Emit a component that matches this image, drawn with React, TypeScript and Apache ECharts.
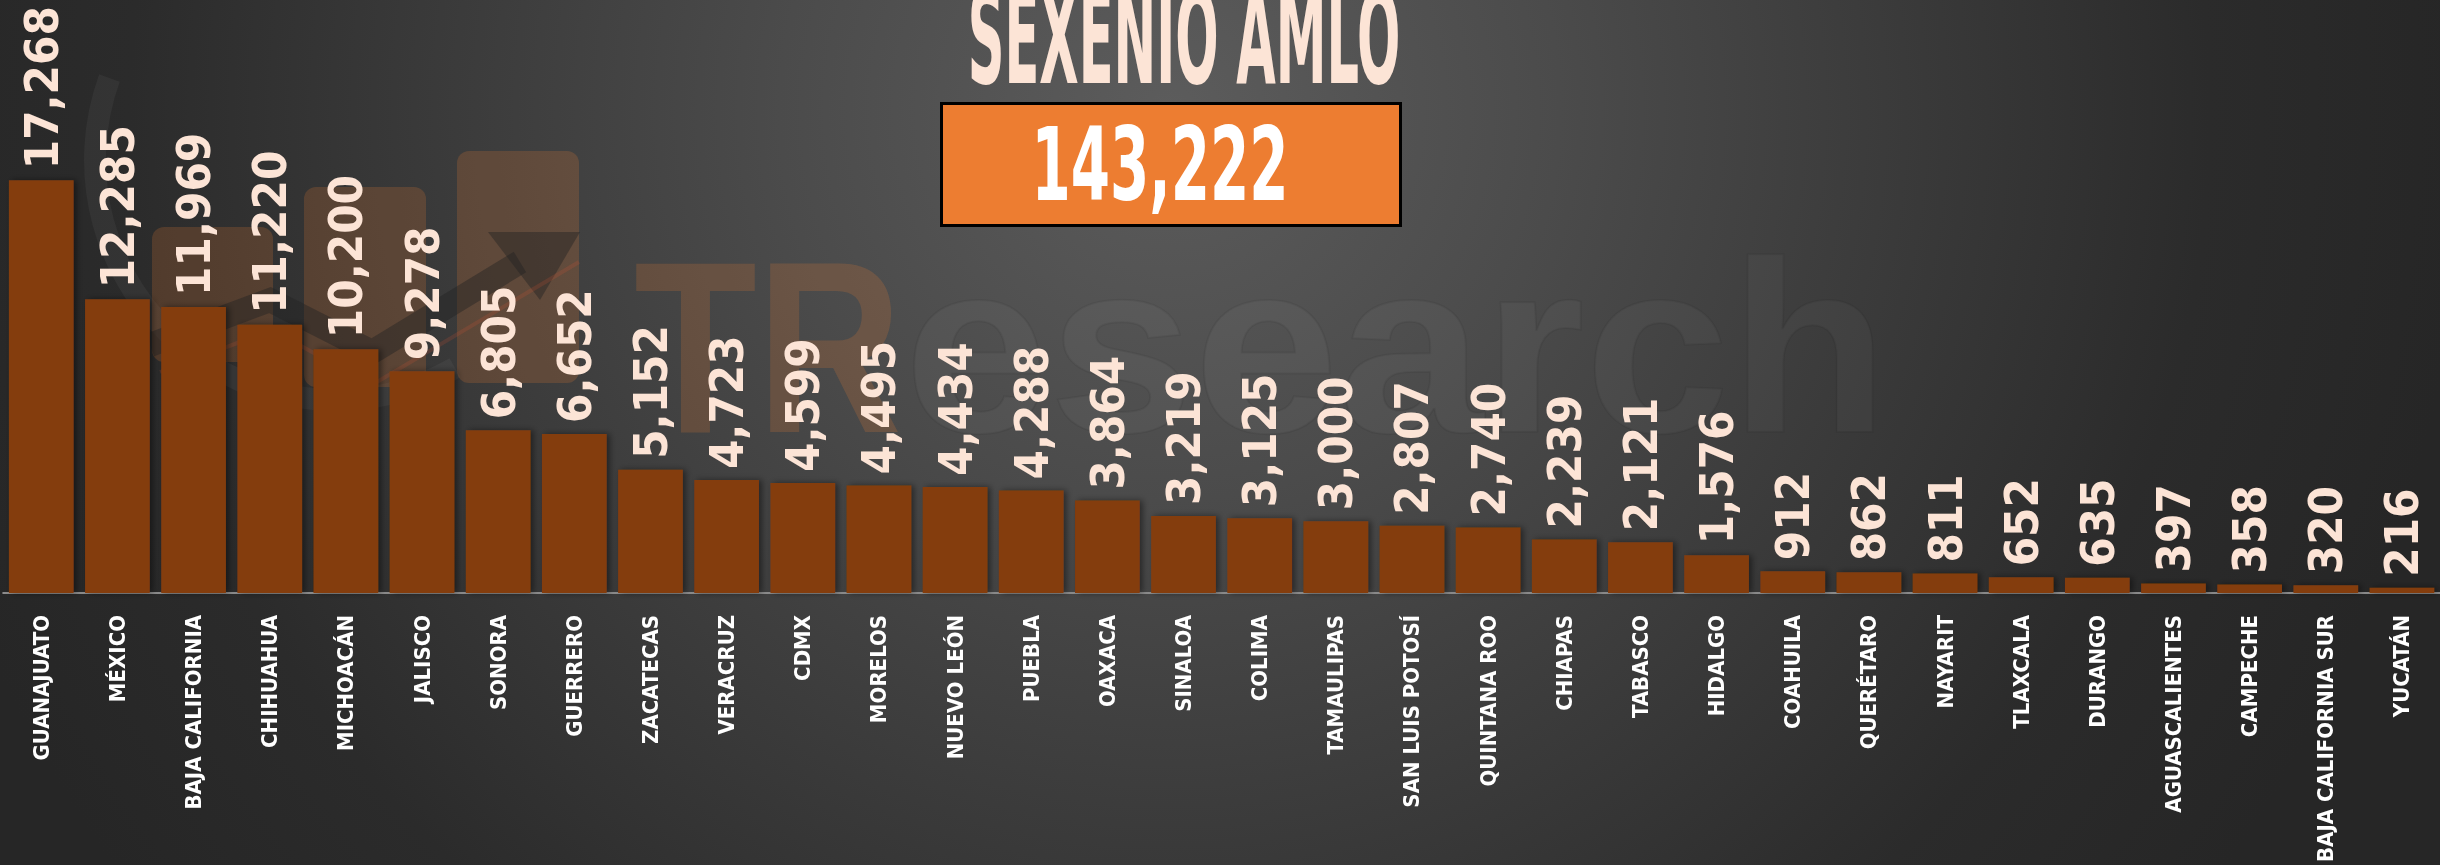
import React, { useEffect, useRef } from "react";
import * as echarts from "echarts";

const states = [
  "GUANAJUATO", "MÉXICO", "BAJA CALIFORNIA", "CHIHUAHUA", "MICHOACÁN", "JALISCO",
  "SONORA", "GUERRERO", "ZACATECAS", "VERACRUZ", "CDMX", "MORELOS", "NUEVO LEÓN",
  "PUEBLA", "OAXACA", "SINALOA", "COLIMA", "TAMAULIPAS", "SAN LUIS POTOSÍ",
  "QUINTANA ROO", "CHIAPAS", "TABASCO", "HIDALGO", "COAHUILA", "QUERÉTARO",
  "NAYARIT", "TLAXCALA", "DURANGO", "AGUASCALIENTES", "CAMPECHE",
  "BAJA CALIFORNIA SUR", "YUCATÁN",
];
const homicides = [
  17268, 12285, 11969, 11220, 10200, 9278, 6805, 6652, 5152, 4723, 4599, 4495, 4434,
  4288, 3864, 3219, 3125, 3000, 2807, 2740, 2239, 2121, 1576, 912, 862, 811, 652, 635,
  397, 358, 320, 216,
];
const titleText = "SEXENIO AMLO";
const totalText = "143,222";
const watermarkA = "TR";
const watermarkB = "esearch";

const FONT = "'DejaVu Sans Condensed', 'Liberation Sans Narrow', 'DejaVu Sans', sans-serif";
const WM_FONT = "'Liberation Sans', Arial, sans-serif";
const PEACH = "#FCE4D6";

function fitScale(text: string, font: string, target: number): number {
  const ctx = document.createElement("canvas").getContext("2d");
  if (!ctx) return 1;
  ctx.font = font;
  const w = ctx.measureText(text).width;
  return w > 0 ? target / w : 1;
}

export default function App() {
  const ref = useRef<HTMLDivElement>(null);

  useEffect(() => {
    if (!ref.current) return;
    const chart = echarts.init(ref.current, undefined, { renderer: "svg" });

    const titleSize = 130;
    const titleScale = fitScale(titleText, `bold ${titleSize}px ${FONT}`, 432);
    const totalSize = 101;
    const totalScale = fitScale(totalText, `bold ${totalSize}px ${FONT}`, 257);
    const wmSize = 245;
    const wmScaleA = fitScale(watermarkA, `bold ${wmSize}px ${WM_FONT}`, 268);
    const wmScaleB = fitScale(watermarkB, `bold ${wmSize}px ${WM_FONT}`, 985);

    chart.setOption({
      animation: false,
      backgroundColor: "transparent",
      grid: { left: 3.2, top: 115, width: 2451.2, height: 481, containLabel: false },
      xAxis: {
        type: "category",
        data: states,
        axisLine: { show: true, lineStyle: { color: "#8c8c8c", width: 2 } },
        axisTick: { show: false },
        axisLabel: {
          interval: 0,
          rotate: 90,
          margin: 22,
          color: "#FFFFFF",
          fontWeight: "bold",
          fontSize: 22,
          fontFamily: FONT,
        },
        splitLine: { show: false },
      },
      yAxis: {
        type: "value",
        min: 0,
        max: 20000,
        show: false,
        splitLine: { show: false },
      },
      series: [
        {
          type: "bar",
          data: homicides,
          barCategoryGap: "15%",
          z: 3,
          itemStyle: {
            color: "#843C0C",
            shadowBlur: 6,
            shadowColor: "rgba(0,0,0,0.45)",
            shadowOffsetX: 3,
          },
          label: {
            show: true,
            position: "top",
            distance: 11,
            rotate: 90,
            align: "left",
            verticalAlign: "middle",
            color: PEACH,
            fontFamily: FONT,
            fontWeight: "bold",
            fontSize: 47,
            formatter: (p: any) => Number(p.value).toLocaleString("en-US"),
          },
        },
      ],
      graphic: [
        {
          type: "group",
          z: 0,
          silent: true,
          children: [
            {
              type: "arc",
              shape: { cx: 335, cy: 160, r: 240, startAngle: (60 * Math.PI) / 180, endAngle: (200 * Math.PI) / 180, clockwise: true },
              style: { stroke: "rgba(255,255,255,0.045)", lineWidth: 22, fill: "none" },
            },
            {
              type: "rect",
              shape: { x: 152, y: 227, width: 121, height: 135, r: 12 },
              style: { fill: "rgba(237,125,49,0.2)" },
            },
            {
              type: "rect",
              shape: { x: 304, y: 187, width: 122, height: 200, r: 12 },
              style: { fill: "rgba(237,125,49,0.2)" },
            },
            {
              type: "rect",
              shape: { x: 457, y: 151, width: 122, height: 232, r: 12 },
              style: { fill: "rgba(237,125,49,0.2)" },
            },
            {
              type: "polyline",
              shape: { points: [[150, 345], [270, 300], [372, 352], [520, 262]] },
              style: { stroke: "rgba(35,35,35,0.45)", lineWidth: 24, fill: "none" },
            },
            {
              type: "polygon",
              shape: { points: [[488, 232], [580, 232], [540, 300]] },
              style: { fill: "rgba(35,35,35,0.45)" },
            },
            {
              type: "polyline",
              shape: { points: [[160, 372], [272, 330], [372, 385], [579, 262]] },
              style: { stroke: "rgba(237,90,49,0.16)", lineWidth: 4, fill: "none" },
            },
            {
              type: "text",
              x: 634,
              y: 347,
              scaleX: wmScaleA,
              style: {
                text: watermarkA,
                fontSize: wmSize,
                fontWeight: "bold",
                fontFamily: WM_FONT,
                fill: "rgba(237,125,49,0.2)",
                align: "left",
                verticalAlign: "middle",
              },
            },
            {
              type: "text",
              x: 904,
              y: 347,
              scaleX: wmScaleB,
              style: {
                text: watermarkB,
                fontSize: wmSize,
                fontWeight: "bold",
                fontFamily: WM_FONT,
                fill: "rgba(255,255,255,0.035)",
                stroke: "rgba(0,0,0,0.06)",
                lineWidth: 2,
                align: "left",
                verticalAlign: "middle",
              },
            },
          ],
        },
        {
          type: "text",
          z: 10,
          x: 1184,
          y: 38,
          scaleX: titleScale,
          style: {
            text: titleText,
            fontSize: titleSize,
            fontWeight: "bold",
            fontFamily: FONT,
            fill: PEACH,
            align: "center",
            verticalAlign: "middle",
          },
        },
        {
          type: "rect",
          z: 10,
          shape: { x: 941.5, y: 103.5, width: 459, height: 122 },
          style: { fill: "#ED7D31", stroke: "#000000", lineWidth: 3 },
        },
        {
          type: "text",
          z: 11,
          x: 1160,
          y: 165,
          scaleX: totalScale,
          style: {
            text: totalText,
            fontSize: totalSize,
            fontWeight: "bold",
            fontFamily: FONT,
            fill: "#FFFFFF",
            align: "center",
            verticalAlign: "middle",
          },
        },
      ],
    });

    return () => chart.dispose();
  }, []);

  return (
    <div
      ref={ref}
      style={{
        position: "fixed",
        left: 0,
        top: 0,
        width: 2440,
        height: 865,
        background:
          "radial-gradient(circle 1300px at 1170px 110px, #5c5c5c 0%, #4b4b4b 30%, #2b2b2b 80%, #262626 100%)",
      }}
    />
  );
}
